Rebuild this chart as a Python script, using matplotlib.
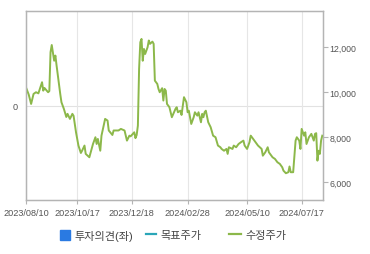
import matplotlib
matplotlib.use("Agg")
import matplotlib.pyplot as plt
from matplotlib.lines import Line2D

plt.rcParams['font.family'] = ['Liberation Sans', 'Noto Sans CJK KR']

# trading-day index and adjusted close (수정주가)
days = [0, 2, 4, 6, 8, 10, 13, 14, 15, 18, 19, 20, 21, 23, 24, 25, 28, 29, 31, 33,
        34, 36, 38, 39, 41, 43, 45, 46, 48, 49, 52, 55, 57, 58, 59, 61, 62, 65, 67, 68,
        71, 72, 76, 78, 81, 83, 85, 86, 89, 90, 91, 92, 93, 94, 95, 96, 97, 98, 100, 101,
        102, 104, 105, 106, 108, 109, 110, 112, 113, 114, 115, 116, 118, 120, 123, 124, 125, 127, 128, 130,
        132, 133, 134, 136, 138, 139, 141, 142, 144, 145, 146, 147, 148, 150, 152, 154, 156, 158, 160, 161,
        163, 165, 166, 167, 170, 171, 173, 175, 177, 179, 180, 182, 184, 185, 186, 188, 189, 191, 194, 195,
        197, 199, 200, 202, 203, 205, 207, 209, 211, 212, 214, 216, 217, 218, 220, 222, 223, 225, 226, 227,
        229, 230, 231, 233, 235, 237, 238, 239, 240, 241, 242, 243, 244]
price = [10180, 9900, 9480, 9925, 10000, 9950, 10445, 10070, 10190, 10000, 10050, 11780, 12100, 11400, 11630, 11180, 9925, 9555, 9260, 8900,
         9040, 8815, 9040, 8950, 8220, 7630, 7300, 7400, 7630, 7260, 7110, 7700, 8000, 7700, 7925, 7400, 8070, 8815, 8740, 8300,
         8100, 8300, 8300, 8370, 8300, 7850, 8070, 8040, 8220, 7960, 8100, 8515, 11035, 12220, 12370, 11400, 11925, 11700, 12000, 12300,
         12150, 12250, 12150, 10515, 10370, 10145, 10000, 10180, 9630, 10145, 10070, 9480, 9333, 8890, 9260, 9333, 9110, 9180, 8990, 9780,
         9555, 9110, 9180, 8590, 8890, 9110, 8960, 9110, 8665, 9040, 8890, 9110, 9180, 8665, 8445, 8070, 8000, 7630, 7555, 7480,
         7400, 7480, 7260, 7555, 7480, 7630, 7555, 7700, 7780, 7850, 7630, 7480, 7780, 8070, 8000, 7850, 7780, 7630, 7480, 7180,
         7330, 7555, 7330, 7180, 7110, 7035, 6890, 6815, 6665, 6515, 6400, 6445, 6700, 6445, 6445, 7850, 8000, 7850, 7480, 8370,
         8070, 8220, 7700, 8000, 8150, 7850, 8150, 8180, 6960, 7400, 7260, 7850, 8070]

tick_days = [0, 42, 87, 133, 182, 227]
tick_labels = ['2023/08/10', '2023/10/17', '2023/12/18', '2024/02/28', '2024/05/10', '2024/07/17']
price_ticks = [6000, 8000, 10000, 12000]

opinion_color = '#2a7ae2'
target_color = '#2aa6b8'
price_color = '#8cb84a'
frame_color = '#b4b4b4'
label_color = '#555555'

fig = plt.figure(figsize=(3.7, 2.55), dpi=100)
ax = fig.add_axes([0.071, 0.212, 0.802, 0.740])
ax2 = ax.twinx()

# left axis: 투자의견 (empty), only the zero line
ax.set_ylim(-1, 1)
ax.set_yticks([0])
ax.set_yticklabels(['0'])
ax.axhline(0, color='#e2e2e2', lw=0.8, zorder=0)
ax.tick_params(axis='y', length=0, pad=6, labelsize=6.6, colors=label_color)

ax.set_xlim(0, 244.6)
ax.set_xticks(tick_days)
ax.set_xticklabels(tick_labels)
ax.tick_params(axis='x', length=3, width=0.8, color=frame_color, pad=2.5,
               labelsize=6.6, labelcolor=label_color)
for d in tick_days:
    ax.axvline(d, color='#e6e6e6', lw=0.8, zorder=0)

ax2.plot(days, price, color=price_color, lw=1.4)
ax2.set_ylim(5213, 13600)
ax2.set_yticks(price_ticks)
ax2.set_yticklabels([f'{v:,}' for v in price_ticks])
ax2.tick_params(axis='y', length=3.5, width=0.8, color=frame_color, pad=1,
                labelsize=6.3, labelcolor=label_color)

for a in (ax, ax2):
    for s in a.spines.values():
        s.set_color(frame_color)
        s.set_linewidth(0.9)

legend_items = [
    (Line2D([], [], marker='s', ls='none', color=opinion_color, markersize=6.5), '투자의견(좌)', 0.162, 0.9),
    (Line2D([], [], color=target_color, lw=1.6), '목표주가', 0.394, 0.9),
    (Line2D([], [], color=price_color, lw=1.6), '수정주가', 0.619, 1.05),
]
for handle, text, x, hl in legend_items:
    leg = fig.legend([handle], [text], loc='center left', bbox_to_anchor=(x, 0.074),
                     frameon=False, fontsize=8, borderpad=0, borderaxespad=0,
                     handlelength=hl, handletextpad=0.45, labelcolor='#444444')

fig.savefig('out.png', dpi=100)
